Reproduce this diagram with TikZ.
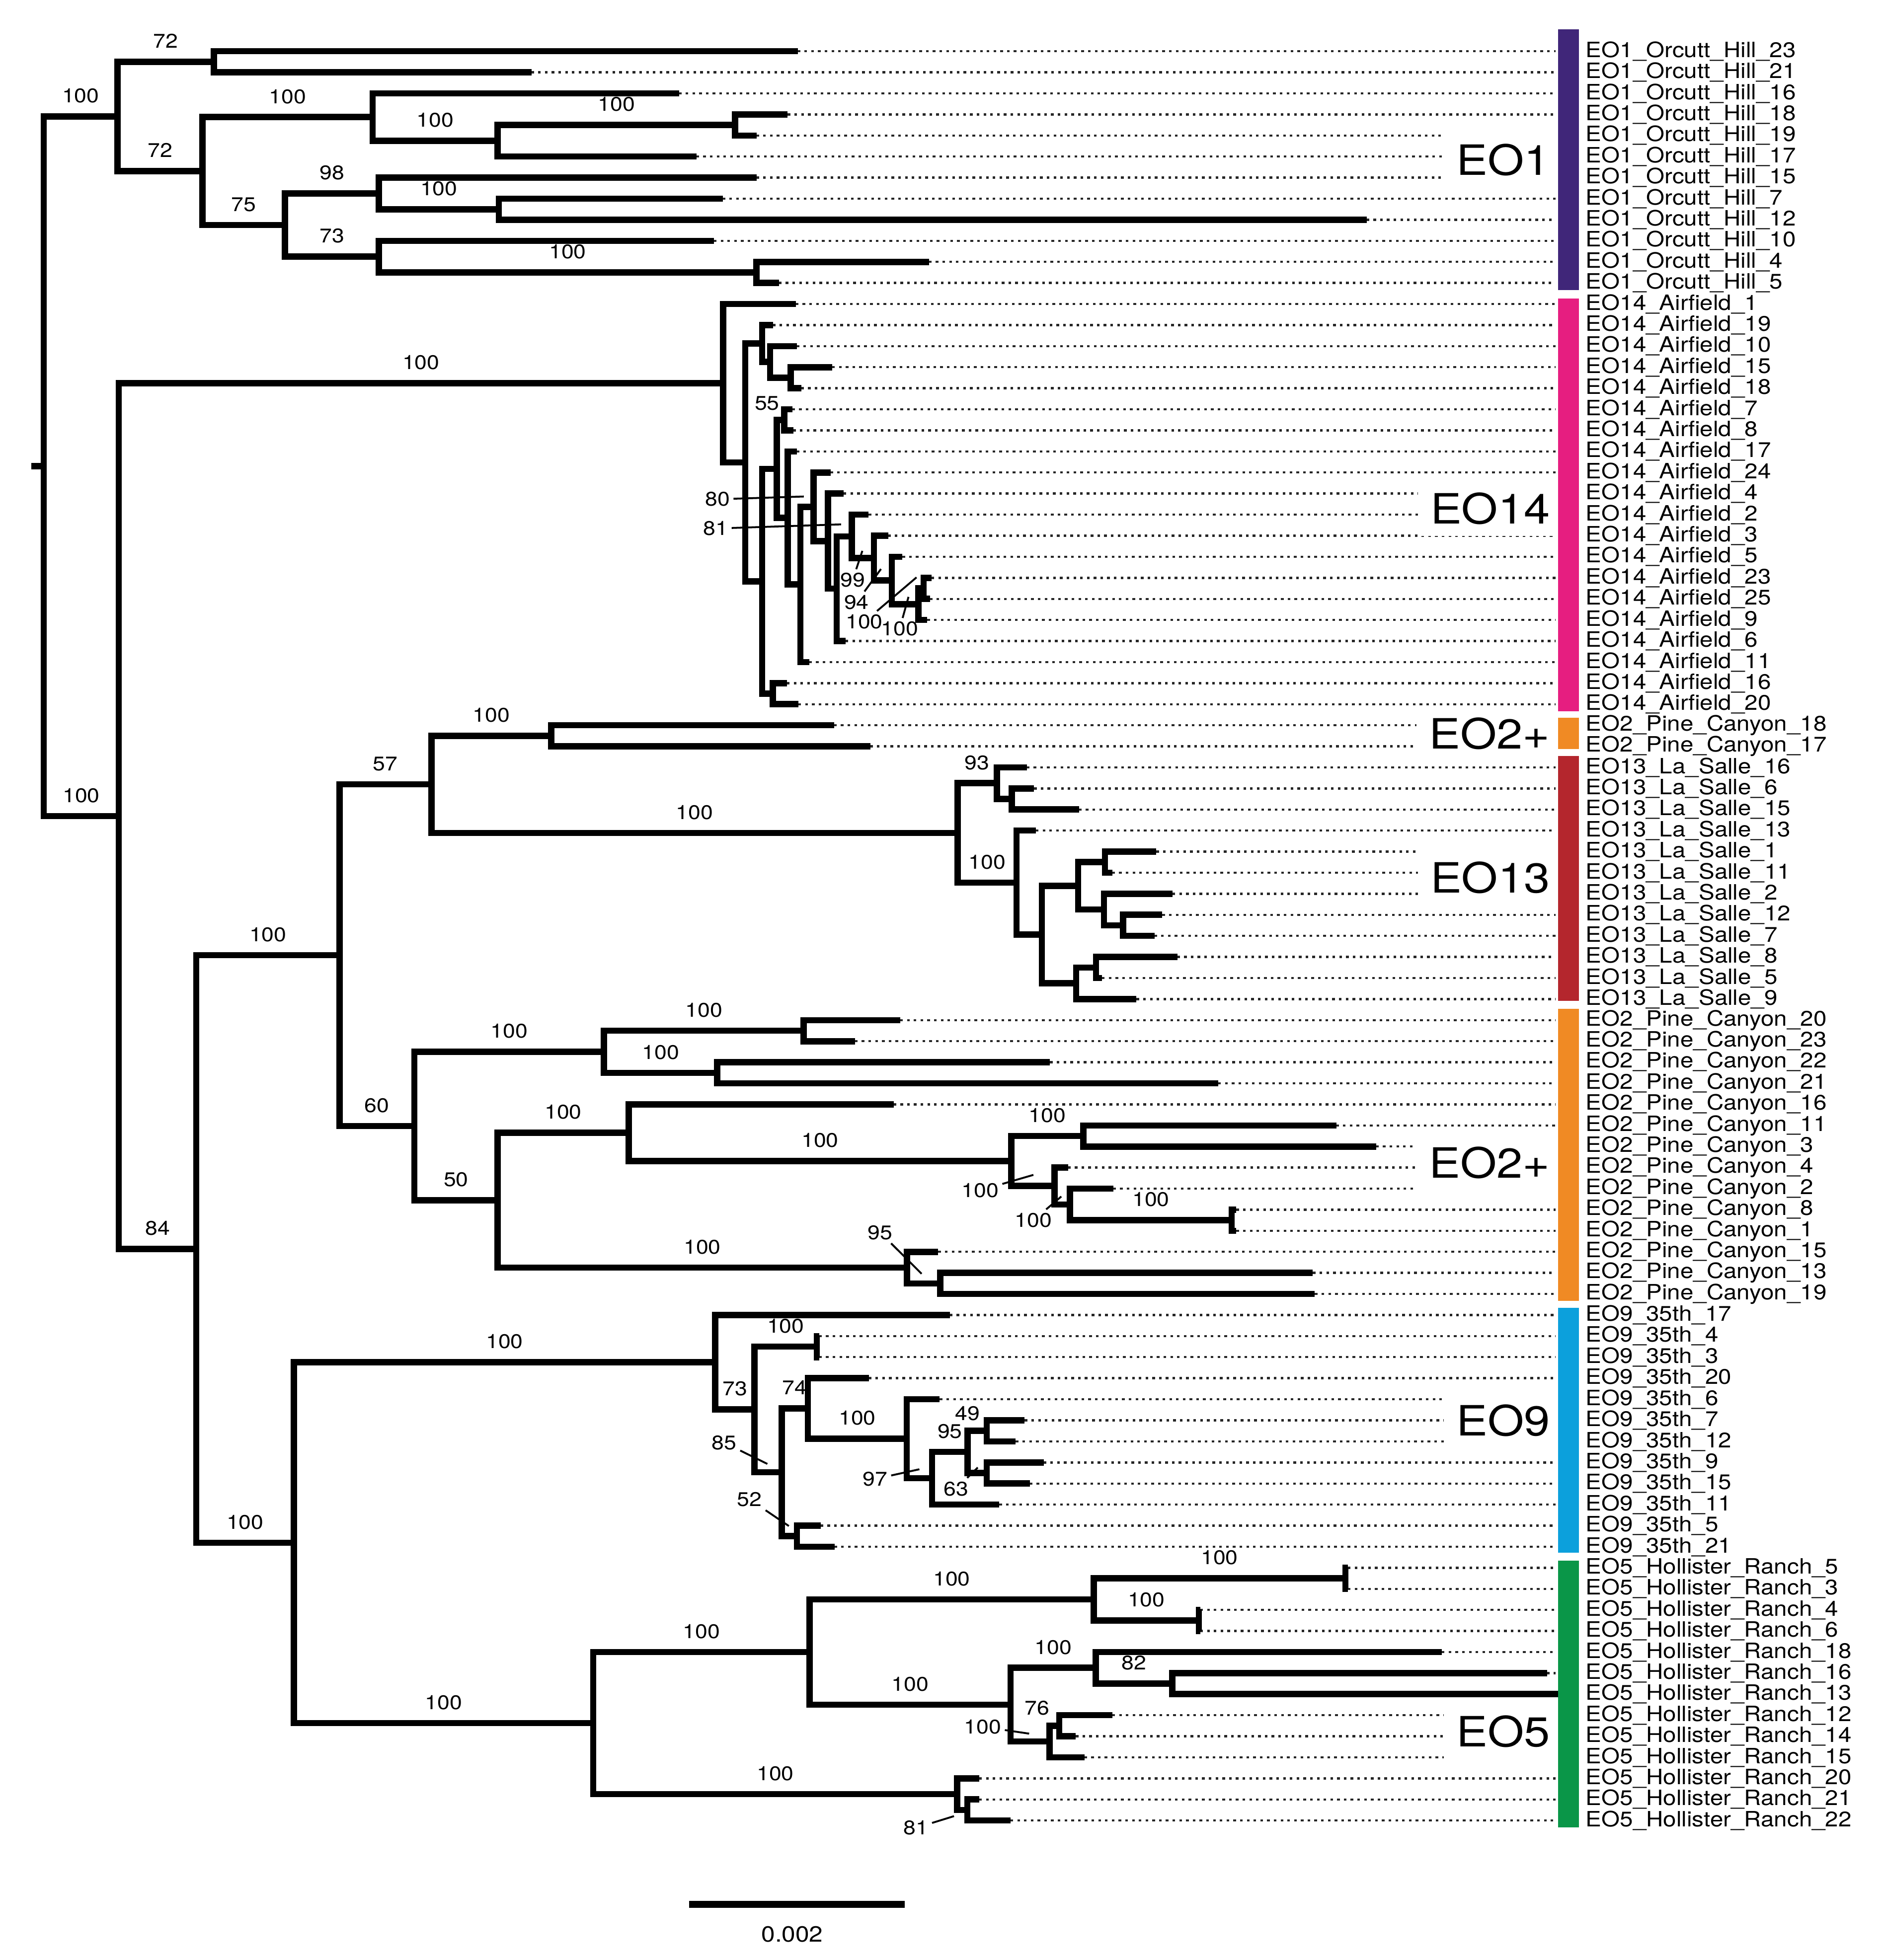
\documentclass[tikz,border=0pt]{standalone}
\usepackage{fontspec}
\setmainfont{TeX Gyre Heros}
\newfontfamily\treefont[FakeStretch=1.12]{TeX Gyre Heros}
\usetikzlibrary{calc}

\definecolor{eoone}{RGB}{64,38,121}
\definecolor{eofourteen}{RGB}{230,30,128}
\definecolor{eotwo}{RGB}{240,138,36}
\definecolor{eothirteen}{RGB}{180,38,45}
\definecolor{eonine}{RGB}{12,160,220}
\definecolor{eofive}{RGB}{10,150,72}

\tikzset{
  branch/.style={line width=1mm, line join=miter},
  leader/.style={line width=0.35mm, dash pattern=on 0.42mm off 0.66mm, black!85},
  pointer/.style={line width=0.3mm},
  boot/.style={pos=0.75, anchor=base, yshift=2.2mm, inner sep=0pt, font=\treefont\fontsize{9}{9}\selectfont},
  bootlab/.style={inner sep=1.5pt, font=\treefont\fontsize{9}{9}\selectfont},
  leaflab/.style={anchor=west, inner sep=0pt, font=\treefont\fontsize{9.6}{10}\selectfont},
  cladelab/.style={anchor=east, fill=white, inner xsep=2mm, inner ysep=1.8mm, font=\treefont\fontsize{19}{20}\selectfont},
  scalelab/.style={inner sep=0pt, font=\treefont\fontsize{10}{10}\selectfont}
}

\begin{document}
\begin{tikzpicture}[x=0.2mm, y=-0.2mm]
\useasboundingbox (0,0) rectangle (1506,1568);

\foreach \i/\xtip/\t in {
0/638/EO1\_Orcutt\_Hill\_23, 1/425/EO1\_Orcutt\_Hill\_21, 2/543/EO1\_Orcutt\_Hill\_16,
3/630/EO1\_Orcutt\_Hill\_18, 4/605/EO1\_Orcutt\_Hill\_19, 5/557/EO1\_Orcutt\_Hill\_17,
6/605/EO1\_Orcutt\_Hill\_15, 7/578/EO1\_Orcutt\_Hill\_7, 8/1093/EO1\_Orcutt\_Hill\_12,
9/571/EO1\_Orcutt\_Hill\_10, 10/743/EO1\_Orcutt\_Hill\_4, 11/623/EO1\_Orcutt\_Hill\_5,
12/636.5/EO14\_Airfield\_1, 13/618.1/EO14\_Airfield\_19, 14/637.2/EO14\_Airfield\_10,
15/665.6/EO14\_Airfield\_15, 16/640.8/EO14\_Airfield\_18, 17/633.7/EO14\_Airfield\_7,
18/634.4/EO14\_Airfield\_8, 19/637.2/EO14\_Airfield\_17, 20/664.2/EO14\_Airfield\_24,
21/674.8/EO14\_Airfield\_4, 22/694.7/EO14\_Airfield\_2, 23/710.3/EO14\_Airfield\_3,
24/721.7/EO14\_Airfield\_5, 25/745.1/EO14\_Airfield\_23, 26/743.7/EO14\_Airfield\_25,
27/741.6/EO14\_Airfield\_9, 28/676.3/EO14\_Airfield\_6, 29/647.2/EO14\_Airfield\_11,
30/629.4/EO14\_Airfield\_16, 31/638.6/EO14\_Airfield\_20,
32/667.1/EO2\_Pine\_Canyon\_18, 33/696/EO2\_Pine\_Canyon\_17,
34/821.2/EO13\_La\_Salle\_16, 35/827/EO13\_La\_Salle\_6, 36/863/EO13\_La\_Salle\_15,
37/828.5/EO13\_La\_Salle\_13, 38/924.8/EO13\_La\_Salle\_1, 39/889.6/EO13\_La\_Salle\_11,
40/937.8/EO13\_La\_Salle\_2, 41/929.6/EO13\_La\_Salle\_12, 42/923.3/EO13\_La\_Salle\_7,
43/941.6/EO13\_La\_Salle\_8, 44/881.4/EO13\_La\_Salle\_5, 45/908.9/EO13\_La\_Salle\_9,
46/720/EO2\_Pine\_Canyon\_20, 47/683.8/EO2\_Pine\_Canyon\_23, 48/839.8/EO2\_Pine\_Canyon\_22,
49/974.4/EO2\_Pine\_Canyon\_21, 50/714.7/EO2\_Pine\_Canyon\_16, 51/1068.7/EO2\_Pine\_Canyon\_11,
52/1100.6/EO2\_Pine\_Canyon\_3, 53/854.2/EO2\_Pine\_Canyon\_4, 54/890.4/EO2\_Pine\_Canyon\_2,
55/988.8/EO2\_Pine\_Canyon\_8, 56/988.8/EO2\_Pine\_Canyon\_1, 57/750.4/EO2\_Pine\_Canyon\_15,
58/1050/EO2\_Pine\_Canyon\_13, 59/1051.6/EO2\_Pine\_Canyon\_19,
60/759.7/EO9\_35th\_17, 61/655.2/EO9\_35th\_4, 62/655.2/EO9\_35th\_3, 63/694.8/EO9\_35th\_20,
64/751.6/EO9\_35th\_6, 65/819.5/EO9\_35th\_7, 66/812.4/EO9\_35th\_12, 67/834.7/EO9\_35th\_9,
68/823.6/EO9\_35th\_15, 69/799.2/EO9\_35th\_11, 70/656.3/EO9\_35th\_5, 71/667.4/EO9\_35th\_21,
72/1078/EO5\_Hollister\_Ranch\_5, 73/1078/EO5\_Hollister\_Ranch\_3, 74/960/EO5\_Hollister\_Ranch\_4,
75/960/EO5\_Hollister\_Ranch\_6, 76/1153.2/EO5\_Hollister\_Ranch\_18, 77/1237.3/EO5\_Hollister\_Ranch\_16,
78/1246.3/EO5\_Hollister\_Ranch\_13, 79/889.7/EO5\_Hollister\_Ranch\_12, 80/860.4/EO5\_Hollister\_Ranch\_14,
81/867.3/EO5\_Hollister\_Ranch\_15, 82/783.2/EO5\_Hollister\_Ranch\_20, 83/783.2/EO5\_Hollister\_Ranch\_21,
84/808.2/EO5\_Hollister\_Ranch\_22}{
\coordinate (L\i) at (\xtip,{41+16.85*\i});
\coordinate (D\i) at (1244,{41+16.85*\i});
\node[leaflab] (T\i) at (1268,{41+16.85*\i}) {\t};
\draw[leader] (L\i) -- (D\i);
}

\foreach \nm/\xpos/\ca/\cb in {
B/171/L0/L1, G/588/L3/L4, F/398/G/L5, D/298/L2/F, J/399/L7/L8, H/303/L6/J,
K/605/L10/L11, I/303/L9/K, E/228/H/I, C/162/D/E, A1/94/B/C,
N6/632.3/L15/L16, N5/615.9/L14/N6, N3/609.5/L13/N5, N9/627.3/L17/L18,
N19/738.7/L25/L26, N18/734.5/N19/L27, N17/713.2/L24/N18, N16/699/L23/N17,
N15/681.2/L22/N16, N14/669.2/N15/L28, N13/662.1/L21/N14, N12/650.7/L20/N13,
N11/640.1/N12/L29, N10/630.1/L19/N11, N7/621.2/N9/N10, N8/618.1/L30/L31,
N4/609.5/N7/N8, N2/596.1/N3/N4, N1/578.3/L12/N2,
P1/440.8/L32/L33, Q3/809.2/L35/L36, Q2/797.2/L34/Q3, Q7/883.8/L38/L39,
Q9/898.3/L41/L42, Q8/882.9/L40/Q9, Q6/862.2/Q7/Q8, Q11/876.6/L43/L44,
Q10/860.7/Q11/L45, Q5/833.3/Q6/Q10, Q4/813/L37/Q5, Q1/765.8/Q2/Q4, R5/345/P1/Q1,
S3/642.8/L46/L47, S4/573.6/L48/L49, S2/483.1/S3/S4, S8/866.4/L51/L52,
S11/985.1/L55/L56, S10/855.8/L54/S11, S9/843.5/L53/S10, S7/808.9/S8/S9,
S6/502.8/L50/S7, S13/752/L58/L59, S12/725.3/L57/S13, S5/398/S6/S12,
S1/331.4/S2/S5, R4/271.5/R5/S1,
T3/653.2/L61/L62, T9/789.1/L65/L66, T10/789.1/L67/L68, T8/773.9/T9/T10,
T7/745.5/T8/L69, T6/725.2/L64/T7, T5/646.1/L63/T6, T11/637.4/L70/L71,
T4/625.2/T5/T11, T2/603.5/T3/T4, T1/572.1/L60/T2,
U4/1076/L72/L73, U5/958.9/L74/L75, U3/874.7/U4/U5, U8/937.6/L77/L78,
U7/876.3/L76/U8, U10/847.1/L79/L80, U9/839.5/U10/L81, U6/808.2/U7/U9,
U2/647.5/U3/U6, U12/773.6/L83/L84, U11/765.6/L82/U12, U1/474.5/U2/U11,
R6/235/T1/U1, R3/157/R4/R6, R2/95/N1/R3, root/35/A1/R2}{
\path let \p1=($(\ca)!.5!(\cb)$) in (\xpos*0.2mm,\y1) coordinate (\nm);
}

\node[cladelab] (cEO1) at (1250,128) {EO1};
\node[cladelab] (cEO14) at (1250,407) {EO14};
\node[cladelab] (cEO2a) at (1250,587) {EO2+};
\node[cladelab] (cEO13) at (1250,702) {EO13};
\node[cladelab] (cEO2b) at (1250,930) {EO2+};
\node[cladelab] (cEO9) at (1250,1136.5) {EO9};
\node[cladelab] (cEO5) at (1250,1385) {EO5};

\coordinate (stub) at ([xshift=-2mm]root);
\draw[branch] (root) -- (stub);

\foreach \p/\c in {
B/L0, B/L1, D/L2, F/L5, G/L3, G/L4, H/L6, J/L7, J/L8, I/L9, K/L10, K/L11,
N1/L12, N1/N2, N2/N3, N2/N4, N3/L13, N3/N5, N5/L14, N5/N6, N6/L15, N6/L16,
N4/N7, N4/N8, N7/N9, N7/N10, N9/L17, N9/L18, N10/L19, N10/N11, N11/N12, N11/L29,
N12/L20, N12/N13, N13/L21, N13/N14, N14/N15, N14/L28, N15/L22, N15/N16,
N16/L23, N16/N17, N17/L24, N17/N18, N18/N19, N18/L27, N19/L25, N19/L26, N8/L30, N8/L31,
P1/L32, P1/L33, Q2/L34, Q2/Q3, Q3/L35, Q3/L36, Q4/L37, Q4/Q5, Q5/Q6, Q5/Q10,
Q6/Q7, Q6/Q8, Q7/L38, Q7/L39, Q8/L40, Q8/Q9, Q9/L41, Q9/L42, Q10/Q11, Q10/L45,
Q11/L43, Q11/L44,
S3/L46, S3/L47, S4/L48, S4/L49, S6/L50, S7/S9, S8/L51, S8/L52, S9/L53, S9/S10,
S10/L54, S11/L55, S11/L56, S12/L57, S12/S13, S13/L58, S13/L59,
T1/L60, T2/T4, T3/L61, T3/L62, T4/T11, T5/L63, T6/L64, T6/T7, T7/L69, T8/T9,
T8/T10, T9/L65, T9/L66, T10/L67, T10/L68, T11/L70, T11/L71,
U4/L72, U4/L73, U5/L74, U5/L75, U6/U9, U7/L76, U8/L77, U8/L78, U9/U10, U9/L81,
U10/L79, U10/L80, U11/L82, U11/U12, U12/L83, U12/L84}{
\draw[branch] (\p) |- (\c);
}

\foreach \p/\c/\b in {
root/A1/100, root/R2/100, A1/B/72, A1/C/72, C/D/100, C/E/75, D/F/100, F/G/100,
E/H/98, E/I/73, H/J/100, I/K/100,
R2/N1/100, R2/R3/84, R3/R4/100, R3/R6/100, R4/R5/57, R4/S1/60, R5/P1/100,
R5/Q1/100, Q1/Q2/93, Q1/Q4/100,
S1/S2/100, S1/S5/50, S2/S3/100, S2/S4/100, S5/S6/100, S5/S12/100, S6/S7/100,
S7/S8/100, S10/S11/100,
R6/T1/100, R6/U1/100, T1/T2/73, T2/T3/100, T4/T5/74, T5/T6/100, T7/T8/95,
U1/U2/100, U1/U11/100, U2/U3/100, U2/U6/100, U3/U4/100, U3/U5/100, U6/U7/100, U7/U8/82}{
\draw[branch] (\p) |- node[boot] (b\c) {\b} (\c);
}

\node[bootlab] (p55) at (613.5,322.5) {55};
\node[bootlab] (p49) at (773.9,1130.6) {49};
\node[bootlab] (p76) at (829.5,1366.5) {76};
\foreach \nm/\px/\py/\b/\qx/\qy in {
80/573.8/399.4/80/642.9/397.2, 81/572.3/422.8/81/672.7/419.5,
99/681.9/464.1/99/689.7/440.7, 94/685/481.9/94/704.6/455.2,
A/691.2/497.5/100/733/461.9, B/719.5/503.1/100/726.6/477.5,
C/783.9/952.3/100/826.5/939.9, D/826.5/976.2/100/848.8/957.2,
95/704/986/95/737.1/1019,
85/579.2/1154.1/85/613.7/1171.1, 52/599.5/1199.5/52/630.9/1220.8,
97/699.9/1183.2/97/735.3/1175.4, 63/764.7/1191/63/782/1174,
E/785.9/1381.4/100/823.1/1386.9, F/732.6/1462.3/81/763/1452.9}{
\node[bootlab] (p\nm) at (\px,\py) {\b};
\coordinate (q\nm) at (\qx,\qy);
\draw[pointer] (p\nm) -- (q\nm);
}

\fill[eoone] (1246,23.5) rectangle (1263,232);
\fill[eofourteen] (1246,239) rectangle (1263,569);
\fill[eotwo] (1246,574.3) rectangle (1263,599.1);
\fill[eothirteen] (1246,604.8) rectangle (1263,800.8);
\fill[eotwo] (1246,807) rectangle (1263,1040.7);
\fill[eonine] (1246,1046.4) rectangle (1263,1242.1);
\fill[eofive] (1246,1248.4) rectangle (1263,1462);

\coordinate (sb1) at (551,1523.5);
\coordinate (sb2) at (723.6,1523.5);
\draw[line width=1.1mm] (sb1) -- (sb2);
\node[scalelab] (sbl) at (633.6,1547.4) {0.002};
\end{tikzpicture}
\end{document}
